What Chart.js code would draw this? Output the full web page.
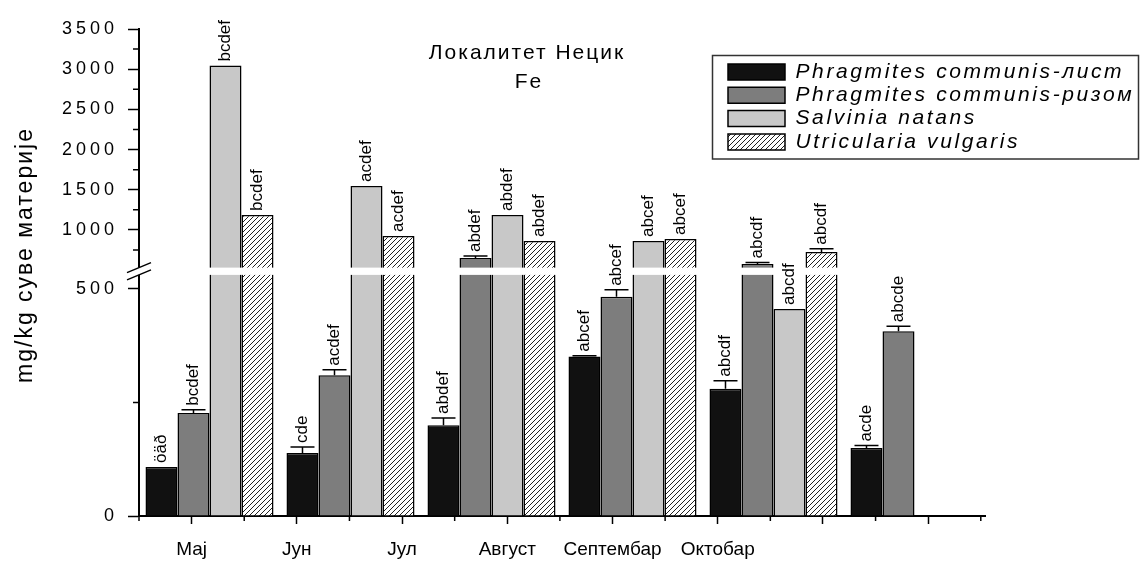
<!DOCTYPE html>
<html>
<head>
<meta charset="utf-8">
<script src="https://cdn.jsdelivr.net/npm/chart.js@4.4.1/dist/chart.umd.min.js"></script>
<style>
  html, body { margin: 0; padding: 0; background: #fff; }
  #wrap { width: 1141px; height: 563px; position: relative; }
</style>
</head>
<body>
<div id="wrap"><canvas id="myChart"></canvas></div>
<script>
const months = ['Мај', 'Јун', 'Јул', 'Август', 'Септембар', 'Октобар'];
const seriesNames = ['Phragmites communis-лист', 'Phragmites communis-ризом', 'Salvinia natans', 'Utricularia vulgaris'];
const chartTitle = ['Локалитет Нецик', 'Fe'];
const yAxisTitle = 'mg/kg суве материје';

const leafValues = [108, 139, 200, 351, 280, 150];
const rhizomeValues = [227, 310, 650, 483, 575, 407];
const salviniaValues = [3045, 1547, 1187, 863, 456, null];
const utriculariaValues = [1187, 925, 863, 888, 726, null];

const leafErrors = [0, 13, 16, 2, 18, 5];
const rhizomeErrors = [7, 12, 25, 15, 20, 11];
const salviniaErrors = [0, 0, 0, 0, 0, 0];
const utriculariaErrors = [0, 0, 0, 0, 40, 0];

const leafLetters = ['öäð', 'cde', 'abdef', 'abcef', 'abcdf', 'acde'];
const rhizomeLetters = ['bcdef', 'acdef', 'abdef', 'abcef', 'abcdf', 'abcde'];
const salviniaLetters = ['bcdef', 'acdef', 'abdef', 'abcef', 'abcdf', null];
const utriculariaLetters = ['bcdef', 'acdef', 'abdef', 'abcef', 'abcdf', null];

const yMajorTicks = [0, 500, 1000, 1500, 2000, 2500, 3000, 3500];
const yMinorTicks = [250, 750, 1250, 1750, 2250, 2750, 3250];

// broken axis: 0..BREAK drawn at full scale, above it compressed
const BREAK = 531, GAP = 16, RATIO = 0.177;
const toAxis = v => v <= BREAK ? v : BREAK + GAP + (v - BREAK) * RATIO;
const fromAxis = d => d <= BREAK ? d : BREAK + (d - BREAK - GAP) / RATIO;

const errors = [leafErrors, rhizomeErrors, salviniaErrors, utriculariaErrors];
const letters = [leafLetters, rhizomeLetters, salviniaLetters, utriculariaLetters];
const rawValues = [leafValues, rhizomeValues, salviniaValues, utriculariaValues];

const FONT = '"Liberation Sans", Arial, sans-serif';
Chart.defaults.font.family = FONT;
Chart.defaults.color = '#000';

const ctx = document.getElementById('myChart').getContext('2d');

function hatchPattern() {
    const c = document.createElement('canvas');
    c.width = 5; c.height = 5;
    const g = c.getContext('2d');
    g.fillStyle = '#fff';
    g.fillRect(0, 0, 5, 5);
    g.strokeStyle = '#222';
    g.lineWidth = 1;
    g.beginPath();
    g.moveTo(0, 5); g.lineTo(5, 0);
    g.moveTo(-1, 1); g.lineTo(1, -1);
    g.moveTo(4, 6); g.lineTo(6, 4);
    g.stroke();
    return ctx.createPattern(c, 'repeat');
}

const colors = ['#111111', '#7d7d7d', '#c8c8c8', hatchPattern()];

const makeSet = (i) => ({
    label: seriesNames[i],
    data: rawValues[i].map(v => v == null ? null : toAxis(v)),
    backgroundColor: colors[i],
    borderColor: '#000',
    borderWidth: 1.5,
    borderSkipped: 'bottom',
    barPercentage: 1,
    categoryPercentage: 0.908,
    xAxisID: 'x',
    yAxisID: 'y'
});

const isMinorTick = c => c.tick && c.tick.label === '';

const extras = {
    id: 'extras',
    afterLayout(chart) {
        const lg = chart.legend;
        if (!lg) return;
        if (!lg._spaced) {
            const orig = lg.draw.bind(lg);
            lg.draw = function (area) {
                const c = this.ctx;
                c.save();
                c.letterSpacing = '2.6px';
                orig(area);
                c.restore();
            };
            lg._spaced = true;
        }
        lg.left = 725.7;
        lg.top = 59.2;
        lg.right = 1139;
        lg.bottom = 160;
    },
    beforeDraw(chart) {
        // y tick labels are drawn before the datasets with this spacing
        chart.ctx.letterSpacing = '4px';
    },
    afterDatasetsDraw(chart) {
        const c = chart.ctx;
        const ys = chart.scales.y;
        const area = chart.chartArea;
        c.save();
        c.letterSpacing = '0px';
        // error bars
        c.strokeStyle = '#000';
        c.lineWidth = 1.5;
        rawValues.forEach((vals, i) => {
            const meta = chart.getDatasetMeta(i);
            vals.forEach((v, j) => {
                const e = errors[i][j];
                if (v == null || !e) return;
                const bar = meta.data[j];
                const y0 = ys.getPixelForValue(toAxis(v));
                const y1 = ys.getPixelForValue(toAxis(v + e));
                c.beginPath();
                c.moveTo(bar.x, y0); c.lineTo(bar.x, y1);
                c.moveTo(bar.x - 12, y1); c.lineTo(bar.x + 12, y1);
                c.stroke();
            });
        });
        // white band at the axis break
        const yHi = ys.getPixelForValue(BREAK + GAP);
        const yLo = ys.getPixelForValue(BREAK);
        c.fillStyle = '#fff';
        c.fillRect(area.left + 1.5, yHi, area.right - area.left, yLo - yHi);
        c.restore();
        c.letterSpacing = '0px';
    },
    afterDraw(chart) {
        const c = chart.ctx;
        const ys = chart.scales.y;
        const xs = chart.scales.xt;
        const area = chart.chartArea;
        c.save();
        c.letterSpacing = '0px';

        // axis break marks
        const yHi = ys.getPixelForValue(BREAK + GAP);
        const yLo = ys.getPixelForValue(BREAK);
        c.fillStyle = '#fff';
        c.fillRect(area.left - 3, yHi, 6, yLo - yHi);
        c.strokeStyle = '#000';
        c.lineWidth = 1.5;
        c.beginPath();
        c.moveTo(area.left - 12, yHi + 5); c.lineTo(area.left + 12, yHi - 5);
        c.moveTo(area.left - 12, yLo + 5); c.lineTo(area.left + 12, yLo - 5);
        c.stroke();

        // minor ticks
        c.lineWidth = 1.5;
        c.beginPath();
        ys.ticks.forEach(t => {
            if (t.label !== '') return;
            const y = ys.getPixelForValue(t.value);
            c.moveTo(area.left - 6, y); c.lineTo(area.left, y);
        });
        xs.ticks.forEach(t => {
            if (t.label !== '') return;
            const x = xs.getPixelForValue(t.value);
            c.moveTo(x, area.bottom); c.lineTo(x, area.bottom + 5);
        });
        c.stroke();

        // significance letters above bars
        c.fillStyle = '#000';
        c.font = '17px ' + FONT;
        c.textAlign = 'left';
        c.textBaseline = 'middle';
        rawValues.forEach((vals, i) => {
            const meta = chart.getDatasetMeta(i);
            vals.forEach((v, j) => {
                const txt = letters[i][j];
                if (v == null || !txt) return;
                const bar = meta.data[j];
                const top = ys.getPixelForValue(toAxis(v + (errors[i][j] || 0)));
                c.save();
                c.translate(bar.x, top - 4);
                c.rotate(-Math.PI / 2);
                c.fillText(txt, 0, 0);
                c.restore();
            });
        });

        // chart title
        c.letterSpacing = '2px';
        c.font = '21px ' + FONT;
        c.textAlign = 'center';
        c.textBaseline = 'alphabetic';
        c.fillText(chartTitle[0], 527, 59);
        c.fillText(chartTitle[1], 529, 88);

        // y axis title
        c.letterSpacing = '2px';
        c.font = '23px ' + FONT;
        c.textBaseline = 'middle';
        c.save();
        c.translate(26, 255);
        c.rotate(-Math.PI / 2);
        c.fillText(yAxisTitle, 0, 0);
        c.restore();

        // legend frame
        c.strokeStyle = '#333';
        c.lineWidth = 1.5;
        c.strokeRect(712.5, 55.5, 426, 103.5);
        c.restore();
    }
};

const chart = new Chart(ctx, {
    type: 'bar',
    data: {
        labels: months,
        datasets: [0, 1, 2, 3].map(makeSet)
    },
    options: {
        responsive: true,
        maintainAspectRatio: false,
        animation: false,
        layout: { padding: { left: 0, right: 156, top: 29, bottom: 0 } },
        plugins: {
            tooltip: { enabled: false },
            legend: {
                position: 'chartArea',
                align: 'start',
                labels: {
                    boxWidth: 57,
                    boxHeight: 16,
                    padding: 2.3,
                    color: '#000',
                    font: { size: 21, style: 'italic' }
                }
            }
        },
        scales: {
            x: { display: false },
            xt: {
                type: 'linear',
                position: 'bottom',
                offset: false,
                min: -0.5,
                max: 7.54,
                afterFit: s => { s.height = 47; },
                afterBuildTicks: s => {
                    const t = [];
                    for (let v = -0.5; v <= 7.5; v += 0.5) t.push({ value: v });
                    s.ticks = t;
                },
                ticks: {
                    z: 1,
                    autoSkip: false,
                    maxRotation: 0,
                    padding: 14,
                    color: '#000',
                    font: { size: 19 },
                    callback: v => Number.isInteger(v) ? (months[v] || ' ') : ''
                },
                grid: {
                    offset: false,
                    drawOnChartArea: false,
                    tickLength: 8,
                    tickWidth: 1.5,
                    tickColor: c => isMinorTick(c) ? 'rgba(0,0,0,0)' : '#000'
                },
                border: { color: '#000', width: 2 }
            },
            y: {
                min: 0,
                max: toAxis(3500),
                afterFit: s => { s.width = 139; },
                afterBuildTicks: s => {
                    s.ticks = yMajorTicks.concat(yMinorTicks)
                        .sort((a, b) => a - b)
                        .map(v => ({ value: toAxis(v) }));
                },
                ticks: {
                    autoSkip: false,
                    padding: 10,
                    color: '#000',
                    font: { size: 18 },
                    callback: d => {
                        const v = Math.round(fromAxis(d));
                        return yMajorTicks.includes(v) ? String(v) : '';
                    }
                },
                grid: {
                    drawOnChartArea: false,
                    tickLength: 11,
                    tickWidth: 1.5,
                    tickColor: c => isMinorTick(c) ? 'rgba(0,0,0,0)' : '#000'
                },
                border: { color: '#000', width: 2 }
            }
        }
    },
    plugins: [extras]
});
</script>
</body>
</html>
